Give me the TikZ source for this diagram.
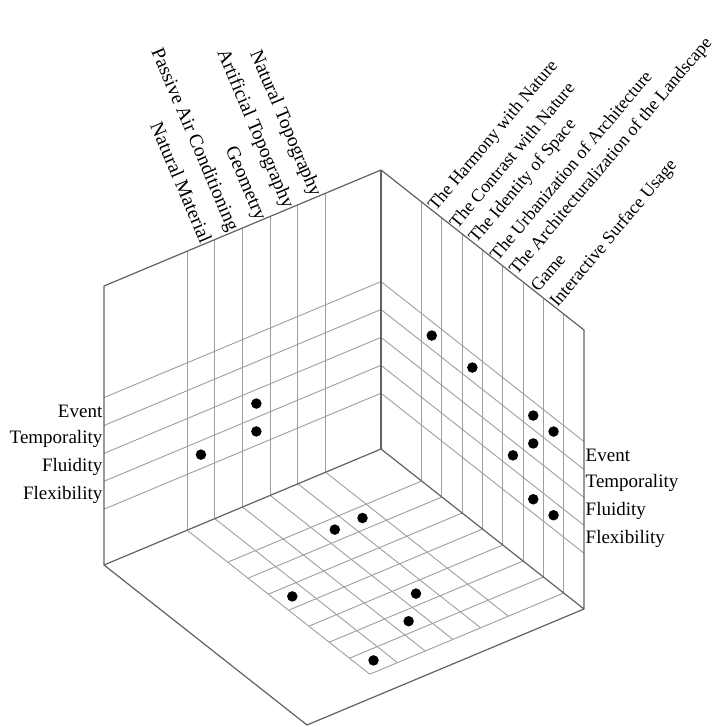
\documentclass[tikz,border=0pt]{standalone}
\usepackage{fontspec}
\setmainfont{Liberation Serif}
\begin{document}
\begin{tikzpicture}[x=1pt,y=1pt,
  edgeline/.style={draw=black!62, line width=1.2pt, line join=round},
  gridline/.style={draw=black!38, line width=0.9pt},
  dot/.style={circle, fill=black, inner sep=0pt, minimum size=10.5pt},
  rowlab/.style={font=\fontsize{19}{19}\selectfont, inner sep=1.5pt},
  toplab/.style={font=\fontsize{18}{18}\selectfont, inner sep=1pt},
  toplabL/.style={font=\fontsize{19.5}{19.5}\selectfont, inner sep=1pt}]
\useasboundingbox (0,0) rectangle (718,-727);
% three inner faces of a cube: a runs to the left, b to the right, c upwards
\begin{scope}[shift={(381,-449)}, x={(-277pt,-116pt)}, y={(203pt,-160pt)}, z={(0pt,279pt)}]
  \coordinate (O)  at (0,0,0);
  \coordinate (Ot) at (0,0,1);
  \coordinate (L)  at (1,0,0);
  \coordinate (Lt) at (1,0,1);
  \coordinate (R)  at (0,1,0);
  \coordinate (Rt) at (0,1,1);
  \coordinate (F)  at (1,1,0);

  % left wall grid
  \foreach \a in {0.2,0.3,...,0.71} \draw[gridline] (\a,0,0) -- (\a,0,1);
  \foreach \c in {0.2,0.3,...,0.61} \draw[gridline] (0,0,\c) -- (1,0,\c);
  % right wall grid
  \foreach \b in {0.2,0.3,...,0.91} \draw[gridline] (0,\b,0) -- (0,\b,1);
  \foreach \c in {0.2,0.3,...,0.61} \draw[gridline] (0,0,\c) -- (0,1,\c);
  % floor grid
  \foreach \a in {0.2,0.3,...,0.71} \draw[gridline] (\a,0,0) -- (\a,0.9,0);
  \foreach \b in {0.2,0.3,...,0.91} \draw[gridline] (0,\b,0) -- (0.7,\b,0);

  % cube edges
  \draw[edgeline] (O) -- (Ot);
  \draw[edgeline] (Ot) -- (Lt) -- (L) -- (O);
  \draw[edgeline] (Ot) -- (Rt) -- (R) -- (O);
  \draw[edgeline] (L) -- (F) -- (R);

  % column headings, left wall
  \foreach \a/\t [count=\i] in {0.65/Natural Material, 0.55/Passive Air Conditioning,
      0.45/Geometry, 0.35/Artificial Topography, 0.25/Natural Topography}
    \node[toplabL, rotate=-67, anchor=base east] (lc\i) at (\a,0,1) {\t};
  % column headings, right wall
  \foreach \b/\t [count=\i] in {0.25/The Harmony with Nature, 0.35/The Contrast with Nature,
      0.45/The Identity of Space, 0.55/The Urbanization of Architecture,
      0.65/The Architecturalization of the Landscape, 0.75/Game,
      0.85/Interactive Surface Usage}
    \node[toplab, rotate=50, anchor=west] (rc\i) at (0,\b,1) {\t};
  % row headings
  \foreach \c/\t [count=\i] in {0.55/Event, 0.45/Temporality, 0.35/Fluidity, 0.25/Flexibility} {
    \node[rowlab, anchor=east] (lr\i) at (1,0,\c) {\t};
    \node[rowlab, anchor=west] (rr\i) at (0,1,\c) {\t};
  }

  % marks on the left wall
  \node[dot] (l1) at (0.45,0,0.35) {};
  \node[dot] (l2) at (0.45,0,0.25) {};
  \node[dot] (l3) at (0.65,0,0.25) {};
  % marks on the right wall
  \node[dot] (r1) at (0,0.25,0.55) {};
  \node[dot] (r2) at (0,0.45,0.55) {};
  \node[dot] (r3) at (0,0.75,0.55) {};
  \node[dot] (r4) at (0,0.85,0.55) {};
  \node[dot] (r5) at (0,0.75,0.45) {};
  \node[dot] (r6) at (0,0.65,0.35) {};
  \node[dot] (r7) at (0,0.75,0.25) {};
  \node[dot] (r8) at (0,0.85,0.25) {};
  % marks on the floor
  \node[dot] (f1) at (0.25,0.25,0) {};
  \node[dot] (f2) at (0.35,0.25,0) {};
  \node[dot] (f3) at (0.65,0.45,0) {};
  \node[dot] (f4) at (0.65,0.85,0) {};
  \node[dot] (f5) at (0.35,0.65,0) {};
  \node[dot] (f6) at (0.45,0.75,0) {};
\end{scope}
\end{tikzpicture}
\end{document}
